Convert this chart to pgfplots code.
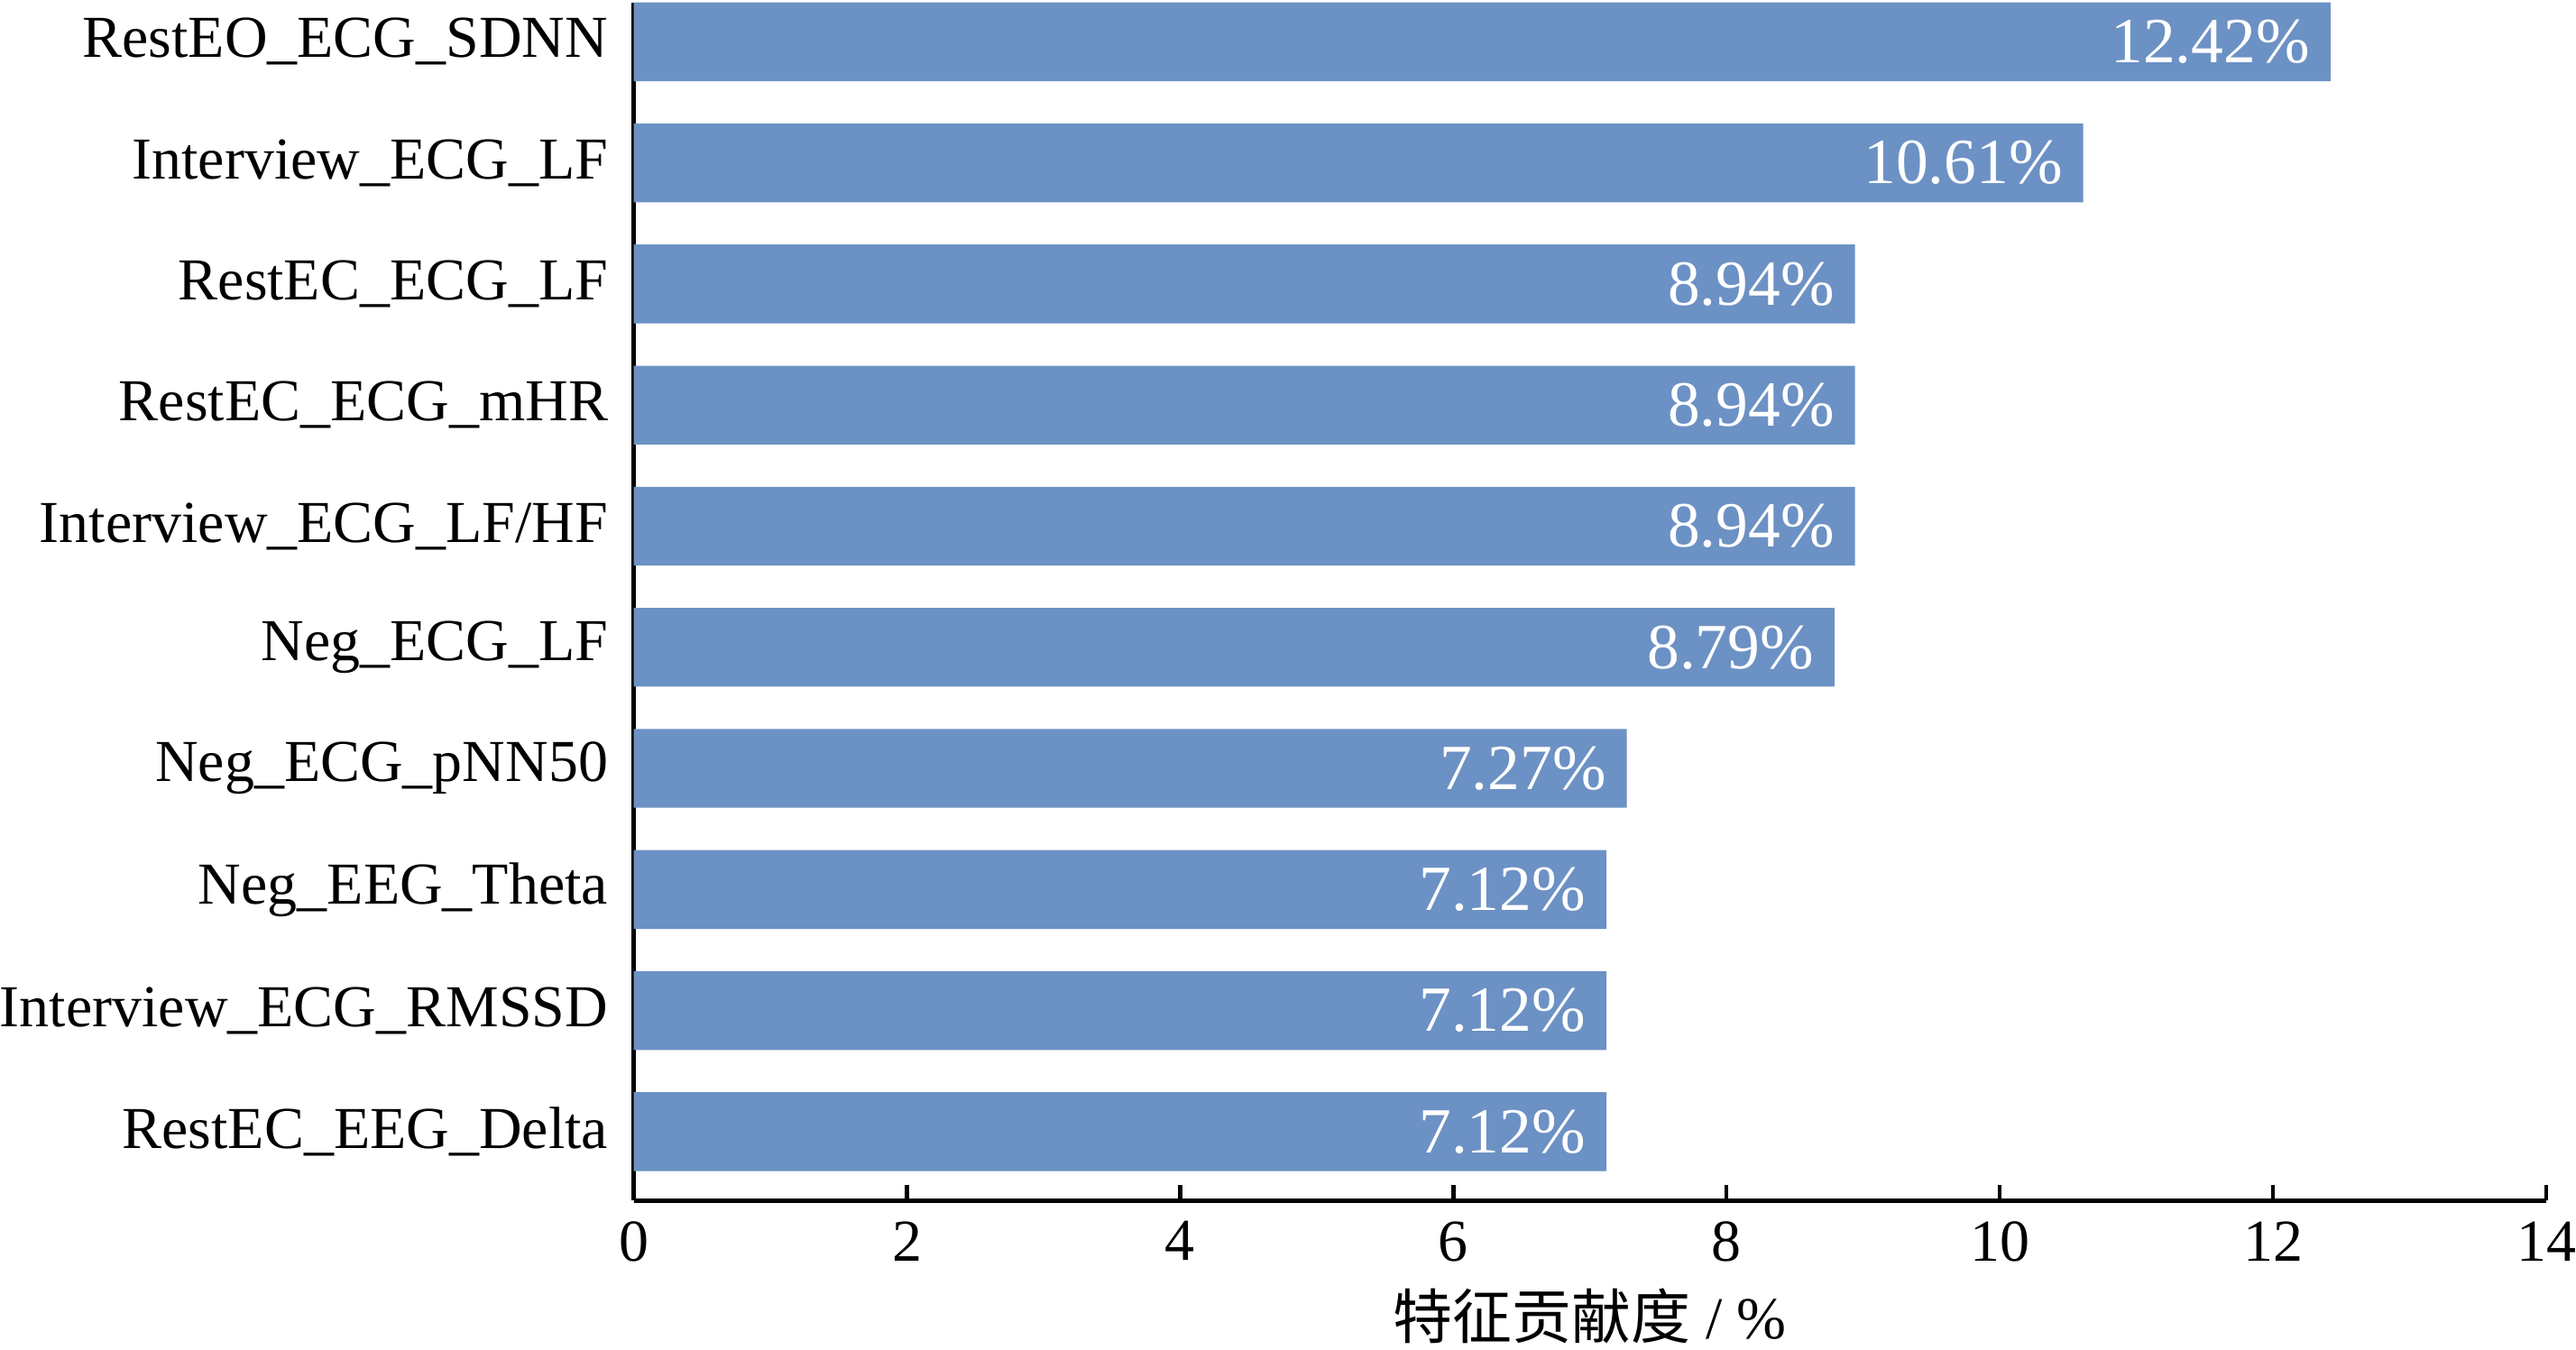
\documentclass[border=0pt]{standalone}
\usepackage{pgfplots}
\pgfplotsset{compat=1.18}
\usepackage{fontspec}
\setmainfont{Liberation Serif}
\newfontfamily\cjk{Noto Sans CJK SC}
\definecolor{barblue}{RGB}{108,145,196}
\begin{document}
\fontsize{12}{14}\selectfont
\begin{tikzpicture}
\begin{axis}[
  scale only axis,
  width=385.9pt, height=241.8pt,
  xbar, bar width=15.9pt,
  xmin=0, xmax=14, ymin=-0.57, ymax=9.325,
  axis x line*=bottom, axis y line*=left,
  axis line style={line width=1pt},
  xtick={0,2,...,14},
  xtick align=inside,
  major tick length=3.2pt,
  xtick style={line width=0.8pt, black},
  ytick={0,...,9},
  ytick style={draw=none},
  yticklabel style={inner sep=0pt, xshift=-1.8pt},
  xticklabel style={inner xsep=0pt},
  yticklabels={RestEC\_EEG\_Delta, Interview\_ECG\_RMSSD, Neg\_EEG\_Theta, Neg\_ECG\_pNN50, Neg\_ECG\_LF, Interview\_ECG\_LF/HF, RestEC\_ECG\_mHR, RestEC\_ECG\_LF, Interview\_ECG\_LF, RestEO\_ECG\_SDNN},
  /pgf/number format/assume math mode=true,
  xlabel={{\cjk 特征贡献度} / \%},
  xlabel style={inner xsep=0pt, inner ysep=1.2pt, yshift=0pt},
  nodes near coords={\pgfmathprintnumber[fixed,fixed zerofill,precision=2,assume math mode=true]{\pgfplotspointmeta}\%},
  nodes near coords style={anchor=east, text=white, font=\fontsize{13}{15}\selectfont},
  point meta=x,
  clip=false,
]
\addplot[fill=barblue, draw=none] coordinates {
  (7.12,0) (7.12,1) (7.12,2) (7.27,3) (8.79,4) (8.94,5) (8.94,6) (8.94,7) (10.61,8) (12.42,9)
};
\end{axis}
\end{tikzpicture}
\end{document}
